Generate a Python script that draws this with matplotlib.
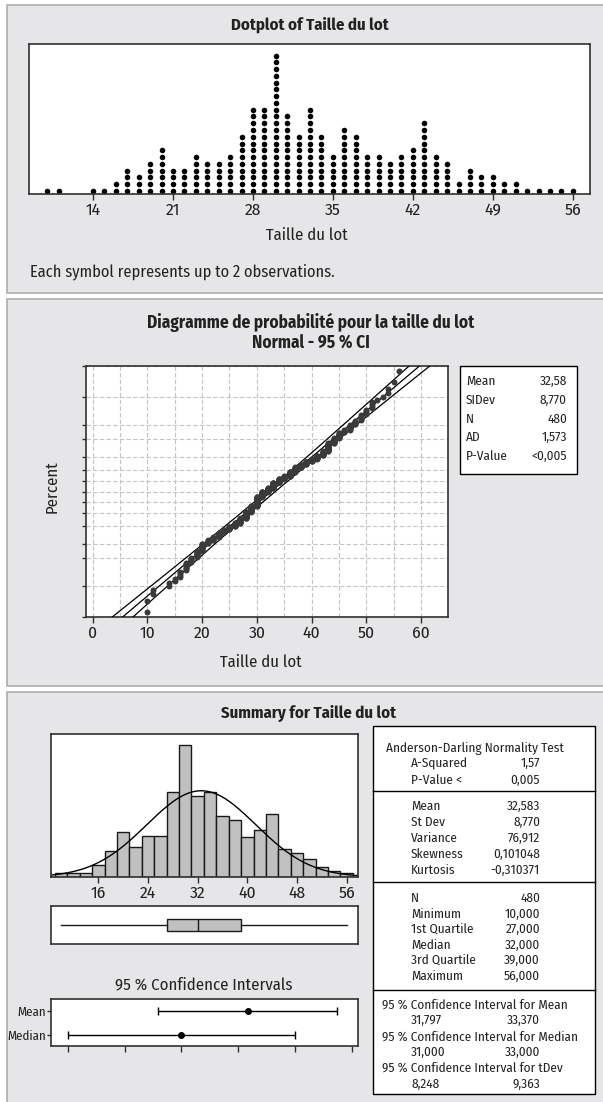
import math
from statistics import NormalDist

import numpy as np
import matplotlib
matplotlib.use("Agg")
import matplotlib.pyplot as plt
from matplotlib.patches import Rectangle
from matplotlib.lines import Line2D

# lot sizes and how many lots had each size
sizes = [10, 11, 14, 15, 16, 17, 18, 19, 20, 21, 22, 23, 24, 25, 26, 27, 28, 29, 30,
         31, 32, 33, 34, 35, 36, 37, 38, 39, 40, 41, 42, 43, 44, 45, 46, 47, 48, 49,
         50, 51, 52, 53, 54, 55, 56]
freq = [2, 2, 2, 2, 4, 7, 6, 9, 14, 7, 8, 12, 9, 9, 12, 17, 26, 25, 42,
        24, 17, 26, 17, 11, 20, 18, 11, 11, 9, 11, 13, 21, 11, 10, 4, 7, 5, 5,
        4, 4, 1, 1, 2, 1, 1]

# stats as printed by the software
mean_val = 32.583
sd_val = 8.770
n_obs = 480
mean_ci = (31.797, 33.370)
median_val = 32.0
median_ci = (31.0, 33.0)

prob_labels = ["Mean", "SIDev", "N", "AD", "P-Value"]
prob_values = ["32,58", "8,770", "480", "1,573", "<0,005"]

ad_labels = ["A-Squared", "P-Value <"]
ad_values = ["1,57", "0,005"]
desc_labels = ["Mean", "St Dev", "Variance", "Skewness", "Kurtosis"]
desc_values = ["32,583", "8,770", "76,912", "0,101048", "-0,310371"]
quart_labels = ["N", "Minimum", "1st Quartile", "Median", "3rd Quartile", "Maximum"]
quart_values = ["480", "10,000", "27,000", "32,000", "39,000", "56,000"]
ci_titles = ["95 % Confidence Interval for Mean",
             "95 % Confidence Interval for Median",
             "95 % Confidence Interval for tDev"]
ci_low = ["31,797", "31,000", "8,248"]
ci_high = ["33,370", "33,000", "9,363"]

data = np.repeat(sizes, freq)

plt.rcParams["font.family"] = ["Fira Sans Condensed", "DejaVu Sans"]
TXT = "#222222"
PANEL = "#e6e6e8"
EDGE = "#a8a8a8"

W, H = 603, 1102
fig = plt.figure(figsize=(W / 100, H / 100), dpi=100)


def fx(x):
    return x / W


def fy(y):
    return 1 - y / H


def add_ax(x0, y0, x1, y1):
    return fig.add_axes([fx(x0), fy(y1), (x1 - x0) / W, (y1 - y0) / H])


def label(x, y, s, size=12, ha="center", bold=False, **kw):
    fig.text(fx(x), fy(y), s, ha=ha, va="center", fontsize=size, color=TXT,
             fontweight="bold" if bold else "normal", **kw)


def box(x0, y0, x1, y1, face="white", edge="black", lw=1.0, z=1):
    fig.add_artist(Rectangle((fx(x0), fy(y1)), (x1 - x0) / W, (y1 - y0) / H,
                             transform=fig.transFigure, facecolor=face,
                             edgecolor=edge, lw=lw, zorder=z))


def hline(x0, x1, y):
    fig.add_artist(Line2D([fx(x0), fx(x1)], [fy(y), fy(y)], transform=fig.transFigure,
                          color="black", lw=1.0, zorder=3))


for top, bot in [(5, 293), (299, 686), (692, 1110)]:
    box(7, top, W + 10, bot, face=PANEL, edge=EDGE, lw=1.1, z=-2)


def frame(ax, size=12.5):
    for s in ax.spines.values():
        s.set_linewidth(1.2)
        s.set_color("#303030")
    ax.tick_params(colors="#303030", labelcolor=TXT, labelsize=size)


# ---------- dotplot ----------
ax1 = add_ax(29, 44, 590, 194)
xs, ys = [], []
for v, c in zip(sizes, freq):
    for k in range(math.ceil(c / 2)):
        xs.append(v)
        ys.append(k)
ax1.plot(xs, ys, "o", color="black", ms=4.0, mew=0)
ax1.set_xlim(8.4, 57.5)
ax1.set_ylim(-0.45, 21.7)
ax1.set_xticks(range(14, 57, 7))
ax1.set_yticks([])
frame(ax1)
ax1.tick_params(axis="x", direction="out", length=4, width=1, pad=2)
label(310, 25, "Dotplot of Taille du lot", bold=True)
label(307, 235, "Taille du lot")
label(30, 272, "Each symbol represents up to 2 observations.", size=11.8, ha="left")

# ---------- probability plot ----------
nd = NormalDist()
ax2 = add_ax(86, 366, 448, 617)
srt = np.sort(data)
n = len(srt)
zz = [nd.inv_cdf((i - 0.3) / (n + 0.4)) for i in range(1, n + 1)]
pct_ticks = [0.1, 1, 5, 10, 20, 30, 40, 50, 60, 70, 80, 90, 95, 99, 99.9]
z_ticks = [nd.inv_cdf(p / 100) for p in pct_ticks]

zl = np.linspace(-3.5, 3.5, 300)
xfit = mean_val + sd_val * zl
half = 1.96 * sd_val * np.sqrt(1 / n_obs + zl ** 2 / (2 * n_obs))
for xl in (xfit, xfit - half, xfit + half):
    ax2.plot(xl, zl, color="black", lw=0.9, zorder=3)
ax2.plot(srt, zz, "o", color="#3a3a3a", ms=4.3, mew=0, zorder=4)

ax2.set_xlim(-1.2, 64.9)
ax2.set_ylim(z_ticks[0], z_ticks[-1])
ax2.set_xticks(range(0, 61, 10))
ax2.set_xticks(range(5, 61, 10), minor=True)
ax2.set_yticks(z_ticks)
ax2.set_yticklabels([])
ax2.grid(True, which="both", color="#c4c4c4", ls=(0, (4, 2)), lw=0.8)
ax2.set_axisbelow(True)
frame(ax2)
ax2.tick_params(axis="x", which="major", direction="out", length=4, width=1, pad=2)
ax2.tick_params(axis="x", which="minor", length=0)
ax2.tick_params(axis="y", direction="out", length=3, width=1)

label(311, 322, "Diagramme de probabilité pour la taille du lot", size=12.4, bold=True)
label(311, 343, "Normal - 95 % CI", size=12.4, bold=True)
label(52, 487, "Percent", rotation=90)
label(261, 662, "Taille du lot")

box(460, 366, 577, 474)
for i, (a, b) in enumerate(zip(prob_labels, prob_values)):
    yy = 381.7 + i * 18.7
    label(466, yy, a, size=9.5, ha="left", zorder=5)
    label(567, yy, b, size=9.5, ha="right", zorder=5)

# ---------- summary ----------
label(309, 713, "Summary for Taille du lot", bold=True)
bins = np.arange(9, 58, 2)
ax3 = add_ax(51, 734, 358, 877)
ax3.hist(data, bins=bins, color="#c0c0c0", edgecolor="#1a1a1a", lw=1.0)
xc = np.linspace(8, 58, 300)
pdf = np.exp(-0.5 * ((xc - mean_val) / sd_val) ** 2) / (sd_val * math.sqrt(2 * math.pi))
ax3.plot(xc, pdf * n_obs * 2, color="black", lw=1.0)
ax3.set_xlim(8.38, 57.82)
ax3.set_ylim(0, 72.4)
ax3.set_xticks(range(16, 57, 8))
ax3.set_yticks([])
frame(ax3)
ax3.tick_params(axis="x", direction="out", length=4, width=1, pad=2)

ax4 = add_ax(51, 906, 358, 944)
ax4.boxplot(data, vert=False, whis=(0, 100), widths=0.29, showcaps=False,
            showfliers=False, patch_artist=True,
            boxprops=dict(facecolor="#c0c0c0", edgecolor="#1a1a1a", lw=1.0),
            medianprops=dict(color="#1a1a1a", lw=1.0),
            whiskerprops=dict(color="#1a1a1a", lw=1.0))
ax4.set_xlim(8.38, 57.82)
ax4.set_ylim(0.5, 1.5)
ax4.set_xticks([])
ax4.set_yticks([])
frame(ax4)

label(204, 985, "95 % Confidence Intervals")
ax5 = add_ax(51, 999.3, 358, 1045.7)
ci_rows = [(1, mean_val, mean_ci), (0, median_val, median_ci)]
for yy, c, (lo, hi) in ci_rows:
    ax5.errorbar([c], [yy], xerr=[[c - lo], [hi - c]], fmt="o", color="black",
                 ms=4.0, capsize=3.0, elinewidth=1.0, capthick=1.0)
ax5.set_xlim(30.853, 33.553)
ax5.set_ylim(-0.46, 1.475)
ax5.set_xticks(np.arange(31, 33.6, 0.5))
ax5.set_xticklabels([])
ax5.set_yticks([1, 0])
ax5.set_yticklabels(["Mean", "Median"])
frame(ax5, size=9.3)
ax5.tick_params(axis="x", direction="out", length=4, width=1)
ax5.tick_params(axis="y", direction="out", length=3, width=1, pad=0.5)

# table
box(373, 726, 594.5, 1094)
for yy in (790.7, 881.7, 990):
    hline(373, 594.5, yy)
TS = 9.5
label(386, 748.3, "Anderson-Darling Normality Test", size=TS, ha="left", zorder=5)
for i, (a, b) in enumerate(zip(ad_labels, ad_values)):
    label(411, 763.8 + i * 16.2, a, size=TS, ha="left", zorder=5)
    label(540, 763.8 + i * 16.2, b, size=TS, ha="right", zorder=5)
for i, (a, b) in enumerate(zip(desc_labels, desc_values)):
    label(411, 806.7 + i * 16.0, a, size=TS, ha="left", zorder=5)
    label(540, 806.7 + i * 16.0, b, size=TS, ha="right", zorder=5)
for i, (a, b) in enumerate(zip(quart_labels, quart_values)):
    label(411, 898.5 + i * 15.5, a, size=TS, ha="left", zorder=5)
    label(540, 898.5 + i * 15.5, b, size=TS, ha="right", zorder=5)
for i, (t, a, b) in enumerate(zip(ci_titles, ci_low, ci_high)):
    yy = 1005 + i * 31.7
    label(382, yy, t, size=TS, ha="left", zorder=5)
    label(411, yy + 15.5, a, size=TS, ha="left", zorder=5)
    label(540, yy + 15.5, b, size=TS, ha="right", zorder=5)

fig.savefig("out.png", dpi=100)
